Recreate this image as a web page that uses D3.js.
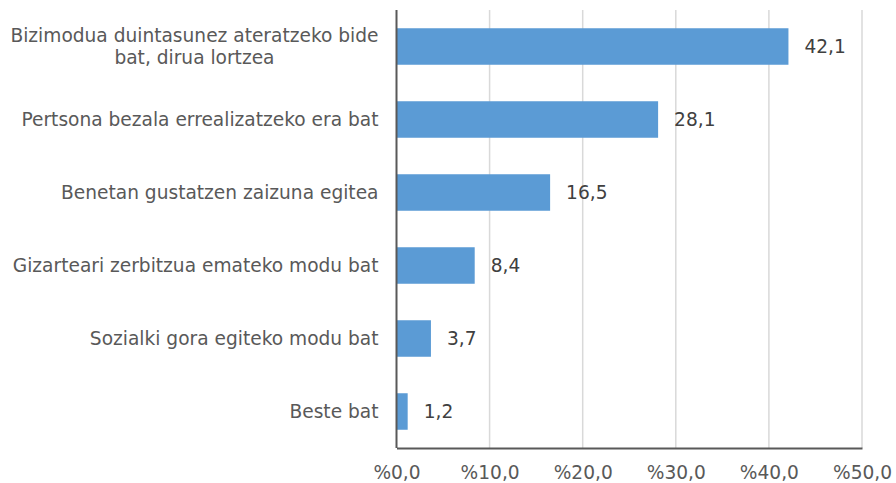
<!DOCTYPE html>
<html>
<head>
<meta charset="utf-8">
<script src="https://cdn.jsdelivr.net/npm/d3@7"></script>
<style>
  body { margin: 0; background: #fff; }
  text { font-family: "DejaVu Sans", Verdana, sans-serif; }
</style>
</head>
<body>
<div id="chart"></div>
<script>
// data
var categories = [
    ["Bizimodua duintasunez ateratzeko bide", "bat, dirua lortzea"],
    ["Pertsona bezala errealizatzeko era bat"],
    ["Benetan gustatzen zaizuna egitea"],
    ["Gizarteari zerbitzua emateko modu bat"],
    ["Sozialki gora egiteko modu bat"],
    ["Beste bat"]
];
var values = [42.1, 28.1, 16.5, 8.4, 3.7, 1.2];
var xTicks = [0, 10, 20, 30, 40, 50];

var W = 896, H = 483;
var margin = {top: 10, right: 34, bottom: 35, left: 396.5},
    width = W - margin.left - margin.right,
    height = H - margin.top - margin.bottom;

var fs = 18.6;
var fmt = function(v) { return v.toFixed(1).replace('.', ','); };

var x = d3.scaleLinear().domain([0, 50]).range([0, width]);
var y = d3.scaleBand().domain(d3.range(values.length)).range([0, height]).paddingInner(0.5).paddingOuter(0.25);

var svg = d3.select('#chart').append('svg')
    .attr('width', W).attr('height', H)
    .append('g')
    .attr('transform', 'translate(' + margin.left + ',' + margin.top + ')');

// gridlines
svg.selectAll('line.grid').data(xTicks.slice(1)).enter().append('line')
    .attr('class', 'grid')
    .attr('x1', d => x(d)).attr('x2', d => x(d))
    .attr('y1', 0).attr('y2', height)
    .attr('stroke', '#d9d9d9').attr('stroke-width', 1.5);

// bars
svg.selectAll('rect.bar').data(values).enter().append('rect')
    .attr('class', 'bar')
    .attr('x', 0)
    .attr('y', (d, i) => y(i))
    .attr('width', d => x(d))
    .attr('height', y.bandwidth())
    .attr('fill', '#5b9bd5');

// value labels
svg.selectAll('text.val').data(values).enter().append('text')
    .attr('class', 'val')
    .attr('x', d => x(d) + 16)
    .attr('y', (d, i) => y(i) + y.bandwidth() / 2)
    .attr('dy', '0.35em')
    .attr('font-size', fs)
    .attr('fill', '#404040')
    .text(d => fmt(d));

// x axis
var xAxis = d3.axisBottom(x).tickValues(xTicks).tickSize(0).tickPadding(18)
    .tickFormat(d => '%' + fmt(d));
var gx = svg.append('g').attr('transform', 'translate(0,' + height + ')').call(xAxis);
gx.select('.domain').attr('stroke', '#595959').attr('stroke-width', 2);
gx.selectAll('text').attr('font-size', fs).attr('fill', '#595959')
    .attr('font-family', '"DejaVu Sans", Verdana, sans-serif');

// left axis line
svg.append('line')
    .attr('x1', 0).attr('x2', 0).attr('y1', 0).attr('y2', height)
    .attr('stroke', '#595959').attr('stroke-width', 2);

// category labels (multi-line blocks right aligned, lines centred)
var labelRight = -18, lineH = 22;
categories.forEach(function(lines, i) {
    var g = svg.append('g');
    var cy = y(i) + y.bandwidth() / 2;
    var texts = lines.map(function(l, j) {
        return g.append('text')
            .attr('y', cy + (j - (lines.length - 1) / 2) * lineH)
            .attr('dy', '0.35em')
            .attr('font-size', fs)
            .attr('fill', '#595959')
            .attr('text-anchor', 'middle')
            .text(l);
    });
    var maxW = d3.max(texts, t => t.node().getComputedTextLength());
    texts.forEach(t => t.attr('x', labelRight - maxW / 2));
});
</script>
</body>
</html>
